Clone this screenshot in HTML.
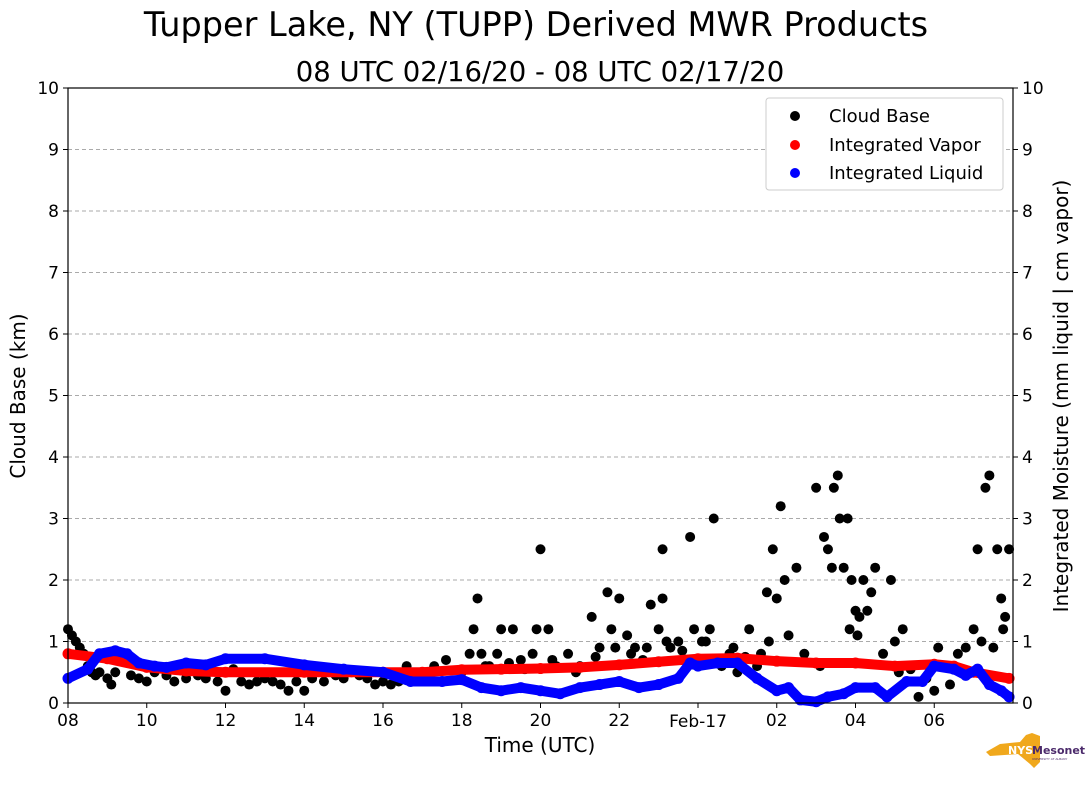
<!DOCTYPE html>
<html><head><meta charset="utf-8"><style>
body{margin:0;background:#fff;}
svg text{font-family:"DejaVu Sans","Liberation Sans",sans-serif;}
</style></head><body>
<svg id="chart" width="1089" height="804" xmlns="http://www.w3.org/2000/svg">
<text x="536" y="36" font-size="33.5" text-anchor="middle">Tupper Lake, NY (TUPP) Derived MWR Products</text>
<text x="540" y="81" font-size="27.5" text-anchor="middle">08 UTC 02/16/20 - 08 UTC 02/17/20</text>
<g id="grid"></g>
<g id="marks"></g>
<rect x="68" y="88" width="945" height="615" fill="none" stroke="#000" stroke-width="1.2"/>
<g id="axes"></g>
<text x="540" y="752" font-size="20" text-anchor="middle">Time (UTC)</text>
<text transform="translate(25,396) rotate(-90)" font-size="20" text-anchor="middle">Cloud Base (km)</text>
<text transform="translate(1068,396) rotate(-90)" font-size="20" text-anchor="middle">Integrated Moisture (mm liquid | cm vapor)</text>
<g>
<rect x="766" y="98" width="237" height="92" fill="#fff" stroke="#ccc" rx="3"/>
<circle cx="795" cy="116" r="5" fill="#000"/>
<text x="829" y="122" font-size="18">Cloud Base</text>
<circle cx="795" cy="145" r="5" fill="red"/>
<text x="829" y="151" font-size="18">Integrated Vapor</text>
<circle cx="795" cy="173" r="5" fill="blue"/>
<text x="829" y="179" font-size="18">Integrated Liquid</text>
</g>
<g>
<path d="M1000 744 L1020 742 L1026 735 L1032 733 L1040 736 L1040 762 L1034 768 L1030 764 L1018 754 L990 756 L986 752 Z" fill="#f0a81c"/>
<text x="1008" y="754" font-size="11" font-weight="bold" fill="#fff">NYS</text>
<text x="1032" y="754" font-size="11" font-weight="bold" fill="#4b2a6b">Mesonet</text>
<text x="1032" y="760" font-size="3" fill="#4b2a6b">UNIVERSITY AT ALBANY</text>
</g>
</svg>
<script>
const yTicks=[0,1,2,3,4,5,6,7,8,9,10];
const xTickHours=[0,2,4,6,8,10,12,14,16,18,20,22];
const xTickLabels=["08","10","12","14","16","18","20","22","Feb-17","02","04","06"];
const vaporT=[0,1,2,3,4,6,8,9,10,11,12,13,14,15,16,17,18,19,20,21,22,22.5,23,23.9];
const vaporV=[0.8,0.72,0.58,0.52,0.5,0.5,0.5,0.5,0.54,0.55,0.56,0.58,0.62,0.67,0.72,0.73,0.68,0.65,0.65,0.6,0.63,0.6,0.5,0.4];
const liquidT=[0,0.5,0.8,1.2,1.5,1.8,2.2,2.5,3,3.5,4,5,6,7,8,8.7,9.5,10,10.5,11,11.5,12,12.5,13,13.5,14,14.5,15,15.5,15.8,16,16.5,17,17.5,18,18.3,18.6,19,19.3,19.7,20,20.5,20.8,21.3,21.7,22,22.5,22.8,23.1,23.4,23.7,23.9];
const liquidV=[0.4,0.55,0.8,0.85,0.8,0.65,0.6,0.58,0.65,0.62,0.72,0.72,0.62,0.55,0.5,0.35,0.35,0.38,0.25,0.2,0.25,0.2,0.15,0.25,0.3,0.35,0.25,0.3,0.4,0.65,0.6,0.65,0.65,0.4,0.2,0.25,0.05,0.02,0.1,0.15,0.25,0.25,0.1,0.35,0.35,0.6,0.55,0.45,0.55,0.3,0.2,0.1];
const cloudT=[0,0.1,0.2,0.3,0.4,0.5,0.6,0.7,0.8,1.0,1.1,1.2,1.4,1.6,1.8,2.0,2.2,2.5,2.7,3.0,3.3,3.5,3.8,4.0,4.2,4.4,4.6,4.8,5.0,5.2,5.4,5.6,5.8,6.0,6.2,6.5,6.8,7.0,7.2,7.4,7.6,7.8,8.0,8.2,8.4,8.6,9.0,9.3,9.6,10.0,10.2,10.3,10.4,10.5,10.7,10.9,11.0,11.3,11.5,11.8,11.9,12.0,12.2,12.4,12.7,13.0,13.3,13.5,13.7,13.8,14.0,14.2,14.4,14.6,14.8,15.0,15.1,15.1,15.3,15.5,15.8,15.9,16.1,16.3,16.4,16.6,16.8,17.0,17.3,17.5,17.75,17.8,17.9,18.0,18.1,18.2,18.3,18.5,18.7,19.0,19.2,19.3,19.4,19.45,19.55,19.6,19.7,19.8,19.85,19.9,20.0,20.05,20.1,20.2,20.3,20.4,20.5,20.7,20.9,21.0,21.2,21.6,21.8,22.0,22.1,22.4,22.6,22.8,23.0,23.1,23.2,23.3,23.4,23.5,23.6,23.7,23.75,23.8,23.9,10.6,11.2,11.6,12.3,12.9,13.4,13.9,14.3,14.7,15.2,15.6,16.2,16.9,17.2,17.6,19.1,21.1,21.4];
const cloudV=[1.2,1.1,1.0,0.9,0.8,0.6,0.5,0.45,0.5,0.4,0.3,0.5,0.7,0.45,0.4,0.35,0.5,0.45,0.35,0.4,0.45,0.4,0.35,0.2,0.55,0.35,0.3,0.35,0.4,0.35,0.3,0.2,0.35,0.2,0.4,0.35,0.45,0.4,0.5,0.45,0.4,0.3,0.35,0.3,0.35,0.6,0.45,0.6,0.7,0.5,0.8,1.2,1.7,0.8,0.6,0.8,1.2,1.2,0.7,0.8,1.2,2.5,1.2,0.6,0.8,0.6,1.4,0.9,1.8,1.2,1.7,1.1,0.9,0.7,1.6,1.2,2.5,1.7,0.9,1.0,2.7,1.2,1.0,1.2,3.0,0.6,0.8,0.5,1.2,0.6,1.8,1.0,2.5,1.7,3.2,2.0,1.1,2.2,0.8,3.5,2.7,2.5,2.2,3.5,3.7,3.0,2.2,3.0,1.2,2.0,1.5,1.1,1.4,2.0,1.5,1.8,2.2,0.8,2.0,1.0,1.2,0.1,0.4,0.2,0.9,0.3,0.8,0.9,1.2,2.5,1.0,3.5,3.7,0.9,2.5,1.7,1.2,1.4,2.5,0.6,0.65,0.55,0.7,0.5,0.75,0.9,0.8,0.9,1.0,0.85,1.0,0.9,0.75,0.8,0.6,0.5,0.55];
const NS='http://www.w3.org/2000/svg';
const X0=68,X1=1013,Y0=703,Y1=88;
function xs(t){return X0+t*(945/24);}
function ys(v){return Y0-v*(Y0-Y1)/10;}
function mk(tag,attrs,parent){const e=document.createElementNS(NS,tag);for(const k in attrs)e.setAttribute(k,attrs[k]);parent.appendChild(e);return e;}
const grid=document.getElementById('grid'),axes=document.getElementById('axes'),marks=document.getElementById('marks');
yTicks.forEach(v=>{
 if(v>0&&v<10){const l=mk('line',{x1:X0,x2:X1,y1:ys(v),y2:ys(v),stroke:'#aaa','stroke-dasharray':'4,3'},grid);
 
 }
 mk('line',{x1:X0-5,x2:X0,y1:ys(v),y2:ys(v),stroke:'#000'},axes);
 mk('line',{x1:X1,x2:X1+5,y1:ys(v),y2:ys(v),stroke:'#000'},axes);
 const a=mk('text',{x:X0-9,y:ys(v)+6,'font-size':17,'text-anchor':'end'},axes);a.textContent=v;
 
 
 const b=mk('text',{x:X1+9,y:ys(v)+6,'font-size':17},axes);b.textContent=v;
 
 
});
xTickHours.forEach((h,i)=>{
 mk('line',{x1:xs(h),x2:xs(h),y1:Y0,y2:Y0+5,stroke:'#000'},axes);
 const t=mk('text',{x:xs(h),y:Y0+23,'font-size':17,'text-anchor':'middle'},axes);t.textContent=xTickLabels[i];
 if(i===8)t.setAttribute('y',Y0+24);
 
 
});
function series(T,V,color,name){
 const g=mk('g',{},marks);
 
 
 mk('polyline',{points:T.map((t,i)=>xs(t)+','+ys(V[i])).join(' '),fill:'none',stroke:color,'stroke-width':10,'stroke-linecap':'round','stroke-linejoin':'round'},g);
 T.forEach((t,i)=>{const c=mk('circle',{cx:xs(t),cy:ys(V[i]),r:5.5,fill:color},g);
 
 });
}
const cg=mk('g',{},marks);


cloudT.forEach((t,i)=>{const c=mk('circle',{cx:xs(t),cy:ys(cloudV[i]),r:5,fill:'#000'},cg);
 
 });
series(vaporT,vaporV,'red','integrated-vapor-series');
series(liquidT,liquidV,'blue','integrated-liquid-series');
</script>
</body></html>
